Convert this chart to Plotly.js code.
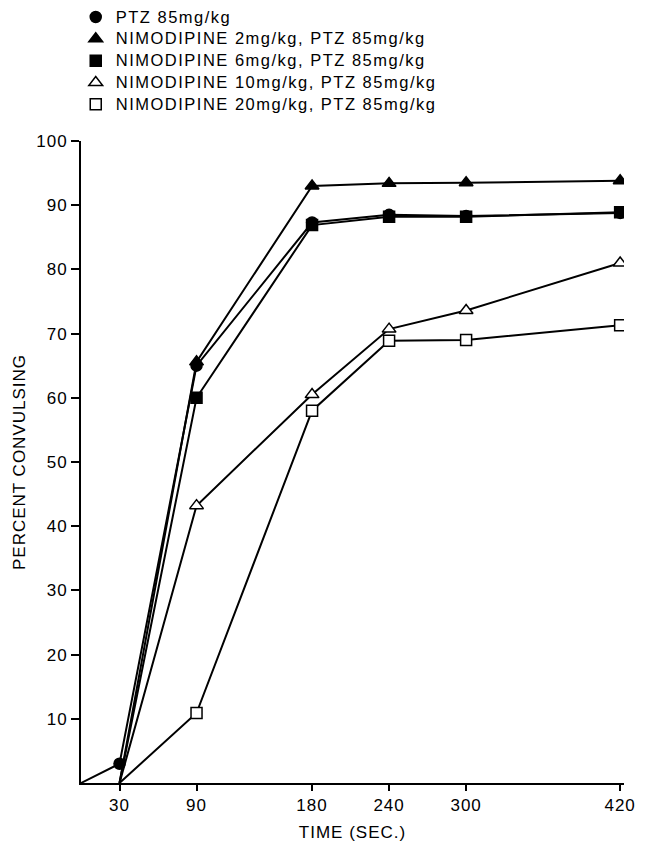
<!DOCTYPE html>
<html>
<head>
<meta charset="utf-8">
<script src="https://cdn.plot.ly/plotly-3.0.1.min.js"></script>
<style>
  html, body { margin: 0; padding: 0; background: #fff; }
  svg text { letter-spacing: 1px; }
  svg text.legendtext { font-size: 16.5px !important; letter-spacing: 1.5px; }
</style>
</head>
<body>
<div id="chart" style="width:645px;height:845px;"></div>
<script>
// ---- data ----
const seriesNames = [
  'PTZ 85mg/kg',
  'NIMODIPINE 2mg/kg, PTZ 85mg/kg',
  'NIMODIPINE 6mg/kg, PTZ 85mg/kg',
  'NIMODIPINE 10mg/kg, PTZ 85mg/kg',
  'NIMODIPINE 20mg/kg, PTZ 85mg/kg'
];
const ptzTime = [0, 30, 90, 180, 240, 300, 420];
const nimTime = [30, 90, 180, 240, 300, 420];
const ptz   = [0, 3, 65, 87.3, 88.5, 88.3, 88.8];
const nim2  = [0, 65.6, 93.0, 93.4, 93.5, 93.8];
const nim6  = [0, 60.0, 86.9, 88.2, 88.2, 88.9];
const nim10 = [0, 43.2, 60.5, 70.7, 73.6, 81.0];
const nim20 = [0, 10.9, 58.0, 68.9, 69.0, 71.3];
const xTickVals = [30, 90, 180, 240, 300, 420];
const yTickVals = [10, 20, 30, 40, 50, 60, 70, 80, 90, 100];

// ---- styles ----
const seriesX = [ptzTime, nimTime, nimTime, nimTime, nimTime];
const seriesY = [ptz, nim2, nim6, nim10, nim20];
const symbols = ['circle', 'triangle-up', 'square', 'triangle-up', 'square'];
const fills   = ['#000', '#000', '#000', '#fff', '#fff'];
const sizes   = [11, 12, 11, 12, 11];

const traces = [];
// connecting lines (start points carry no marker)
seriesX.forEach((xs, i) => {
  traces.push({
    x: xs, y: seriesY[i], type: 'scatter', mode: 'lines',
    line: {color: '#000', width: 2}, showlegend: false, hoverinfo: 'skip'
  });
});
// markers
seriesX.forEach((xs, i) => {
  traces.push({
    x: xs.slice(1), y: seriesY[i].slice(1), type: 'scatter', mode: 'markers',
    name: seriesNames[i],
    marker: {symbol: symbols[i], size: sizes[i], color: fills[i],
             line: {color: '#000', width: 1.5}}
  });
});

const layout = {
  width: 645, height: 845,
  margin: {l: 81, r: 21, t: 141, b: 62, autoexpand: false},
  paper_bgcolor: '#fff', plot_bgcolor: '#fff',
  font: {family: '"Liberation Sans", Arial, Helvetica, sans-serif', color: '#000', size: 17},
  showlegend: true,
  legend: {
    x: -0.0097, y: 1.218, xanchor: 'left', yanchor: 'top',
    font: {size: 14.5}, bgcolor: 'rgba(0,0,0,0)', borderwidth: 0,
    itemwidth: 30, tracegroupgap: 0
  },
  xaxis: {
    range: [0, 423], tickvals: xTickVals, ticktext: xTickVals.map(String),
    ticks: 'outside', ticklen: 6, tickwidth: 2, tickcolor: '#000',
    showline: true, linewidth: 2, linecolor: '#000',
    showgrid: false, zeroline: false,
    tickfont: {size: 17},
    title: {text: 'TIME (SEC.)', font: {size: 17}, standoff: 12}
  },
  yaxis: {
    range: [0, 100], tickvals: yTickVals, ticktext: yTickVals.map(String),
    ticks: 'outside', ticklen: 8, tickwidth: 2, tickcolor: '#000',
    showline: true, linewidth: 2, linecolor: '#000',
    showgrid: false, zeroline: false,
    tickfont: {size: 17},
    title: {text: 'PERCENT CONVULSING', font: {size: 17}, standoff: 6}
  }
};

Plotly.newPlot('chart', traces, layout, {displayModeBar: false, staticPlot: true});
</script>
</body>
</html>
